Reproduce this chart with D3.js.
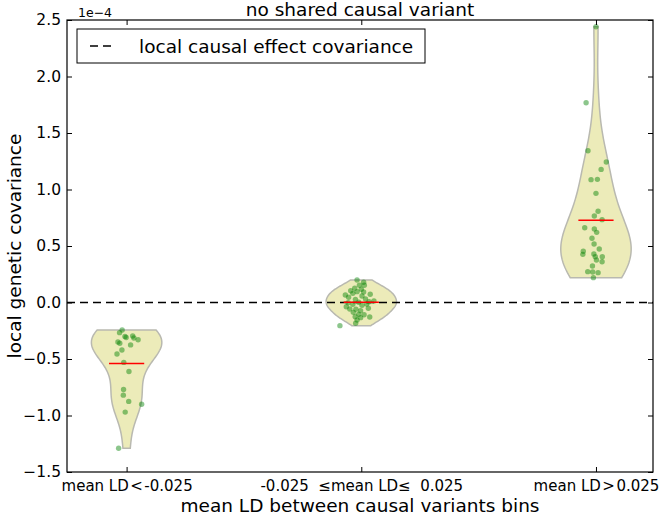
<!DOCTYPE html>
<html>
<head>
<meta charset="utf-8">
<script src="https://cdn.jsdelivr.net/npm/d3@7"></script>
<style>
  body { margin: 0; background: #fff; }
  text { font-family: "DejaVu Sans", sans-serif; }
</style>
</head>
<body>
<svg id="chart" width="660" height="516"></svg>
<script>
(function() {
    var width = 660, height = 516

    // bins along the x axis
    var categories = [1, 2, 3]
    var tickLabels = ["mean LD\u200a<\u200a-0.025", "-0.025  \u2264mean LD\u2264  0.025", "mean LD\u200a>\u200a0.025"]

    // local genetic covariance per simulation (units of 1e-4), with horizontal jitter
    var lowY = [-0.243, -0.267, -0.30, -0.31, -0.297, -0.314, -0.33, -0.35, -0.36, -0.375,
                -0.42, -0.456, -0.53, -0.61, -0.77, -0.82, -0.875, -0.90, -0.97, -1.29]
    var lowJitter = [-0.019, -0.030, -0.007, -0.002, 0.026, 0.031, 0.049, -0.037, -0.029, 0.017,
                     -0.020, -0.041, -0.012, 0.010, -0.013, -0.014, 0.009, 0.064, -0.006, -0.034]

    var midY = [0.199, 0.179, 0.152, 0.152, 0.126, 0.117, 0.104, 0.096, 0.093, 0.066,
                0.081, 0.046, 0.058, 0.073, 0.031, 0.028, 0.013, -0.002, 0.002, 0.007,
                -0.016, -0.025, -0.058, -0.06, -0.051, -0.072, -0.087, -0.104, -0.108, -0.128,
                -0.126, -0.155, -0.134, -0.184, -0.205, -0.037, -0.013]
    var midJitter = [-0.018, 0.010, -0.008, 0.013, -0.028, 0.000, -0.045, -0.018, 0.010, -0.068,
                     -0.036, -0.054, 0.003, 0.038, 0.018, -0.025, 0.054, -0.056, -0.011, 0.033,
                     -0.036, 0.003, -0.049, -0.023, 0.030, -0.003, -0.034, -0.011, 0.012, 0.036,
                     -0.026, -0.018, -0.003, -0.024, -0.091, -0.064, 0.023]

    var highY = [2.44, 1.768, 1.343, 1.243, 1.178, 1.087, 1.09, 0.966, 0.807, 0.765,
                 0.733, 0.662, 0.65, 0.621, 0.568, 0.518, 0.473, 0.453, 0.426, 0.429,
                 0.405, 0.405, 0.376, 0.361, 0.323, 0.273, 0.27, 0.264, 0.22]
    var highJitter = [0.000, -0.042, -0.034, 0.044, 0.022, -0.021, 0.006, 0.000, 0.009, -0.007,
                      0.026, -0.048, -0.007, 0.003, -0.017, -0.008, 0.014, -0.054, -0.056, -0.009,
                      -0.003, 0.027, 0.002, 0.026, -0.015, -0.035, -0.014, 0.009, -0.011]

    var yTicks = [-1.5, -1.0, -0.5, 0.0, 0.5, 1.0, 1.5, 2.0, 2.5]
    var causalCov = 0.0

    var groups = [
        {pos: categories[0], y: lowY, jit: lowJitter},
        {pos: categories[1], y: midY, jit: midJitter},
        {pos: categories[2], y: highY, jit: highJitter}
    ]

    var left = 67, right = 653, top = 20, bottom = 472
    var x = d3.scaleLinear().domain([0.746, 3.243]).range([left, right])
    var y = d3.scaleLinear().domain([-1.5, 2.5]).range([bottom, top])

    const svg = d3.select("#chart")

    // gaussian kde, scott's rule, like matplotlib's violinplot
    function kde(vals) {
        var n = vals.length
        var sd = d3.deviation(vals)
        var bw = sd * Math.pow(n, -1 / 5)
        var lo = d3.min(vals), hi = d3.max(vals)
        var pts = []
        for (var i = 0; i < 100; i++) {
            var v = lo + (hi - lo) * i / 99
            var s = 0
            vals.forEach(function(d) {
                var z = (v - d) / bw
                s += Math.exp(-0.5 * z * z)
            })
            pts.push({v: v, d: s / (n * bw * Math.sqrt(2 * Math.PI))})
        }
        return pts
    }

    var halfWidth = 0.15
    groups.forEach(function(g) {
        var pts = kde(g.y)
        var maxD = d3.max(pts, function(p) { return p.d })
        var area = d3.area()
            .y(function(p) { return y(p.v) })
            .x0(function(p) { return x(g.pos - halfWidth * p.d / maxD) })
            .x1(function(p) { return x(g.pos + halfWidth * p.d / maxD) })
        svg.append("path")
            .datum(pts)
            .attr("d", function(d) { return area(d) + "Z" })
            .style("fill", "#ecebb9")
            .style("stroke", "#b9b9b0")
            .style("stroke-width", 1.5)
    })

    // zero line
    svg.append("line")
        .attr("x1", left).attr("x2", right)
        .attr("y1", y(causalCov)).attr("y2", y(causalCov))
        .style("stroke", "black")
        .style("stroke-width", 1.3)
        .style("stroke-dasharray", "8,5")

    // points
    groups.forEach(function(g) {
        svg.append("g")
            .selectAll("circle")
            .data(g.y)
            .join("circle")
            .attr("cx", function(d, i) { return x(g.pos + g.jit[i]) })
            .attr("cy", function(d) { return y(d) })
            .attr("r", 2.7)
            .style("fill", "green")
            .style("opacity", 0.45)
    })

    // means
    groups.forEach(function(g) {
        var m = d3.mean(g.y)
        svg.append("line")
            .attr("x1", x(g.pos - 0.075)).attr("x2", x(g.pos + 0.075))
            .attr("y1", y(m)).attr("y2", y(m))
            .style("stroke", "red")
            .style("stroke-width", 1.5)
    })

    // axes, ticks inward on all four sides
    var fmt = d3.format(".1f")
    svg.append("g")
        .attr("transform", `translate(${left},0)`)
        .call(d3.axisLeft(y).tickValues(yTicks).tickFormat(fmt).tickSize(-5).tickPadding(6))
    svg.append("g")
        .attr("transform", `translate(${right},0)`)
        .call(d3.axisRight(y).tickValues(yTicks).tickFormat("").tickSize(-5))
    svg.append("g")
        .attr("class", "xaxis")
        .attr("transform", `translate(0,${bottom})`)
        .call(d3.axisBottom(x).tickValues(categories)
            .tickFormat(function(d, i) { return tickLabels[i] }).tickSize(-5).tickPadding(8))
    svg.append("g")
        .attr("transform", `translate(0,${top})`)
        .call(d3.axisTop(x).tickValues(categories).tickFormat("").tickSize(-5))

    svg.selectAll(".domain").remove()
    svg.selectAll(".tick line").style("stroke", "black")
    svg.selectAll(".tick text")
        .style("font-size", "15.5px")
        .style("fill", "black")
        .style("white-space", "pre")
    svg.selectAll(".xaxis .tick text").style("font-size", "15px")

    svg.append("rect")
        .attr("x", left).attr("y", top)
        .attr("width", right - left).attr("height", bottom - top)
        .style("fill", "none")
        .style("stroke", "black")
        .style("stroke-width", 1.2)

    // offset text
    svg.append("text")
        .attr("x", 78).attr("y", 17)
        .style("font-size", "12.5px")
        .text("1e\u22124")

    // title & labels
    svg.append("text")
        .attr("x", (left + right) / 2).attr("y", 15.5)
        .attr("text-anchor", "middle")
        .style("font-size", "18.5px")
        .text("no shared causal variant")
    svg.append("text")
        .attr("x", (left + right) / 2).attr("y", 512)
        .attr("text-anchor", "middle")
        .style("font-size", "18.5px")
        .text("mean LD between causal variants bins")
    svg.append("text")
        .attr("transform", `translate(21,${(top + bottom) / 2}) rotate(-90)`)
        .attr("text-anchor", "middle")
        .style("font-size", "18.5px")
        .text("local genetic covariance")

    // legend
    var lg = svg.append("g")
    lg.append("rect")
        .attr("x", 77).attr("y", 29).attr("width", 348).attr("height", 34)
        .style("fill", "white")
        .style("stroke", "black")
        .style("stroke-width", 1)
    lg.append("line")
        .attr("x1", 90).attr("x2", 116).attr("y1", 46).attr("y2", 46)
        .style("stroke", "black")
        .style("stroke-width", 1.3)
        .style("stroke-dasharray", "8,5")
    lg.append("text")
        .attr("x", 139).attr("y", 52.5)
        .style("font-size", "18.5px")
        .text("local causal effect covariance")
})();
</script>
</body>
</html>
